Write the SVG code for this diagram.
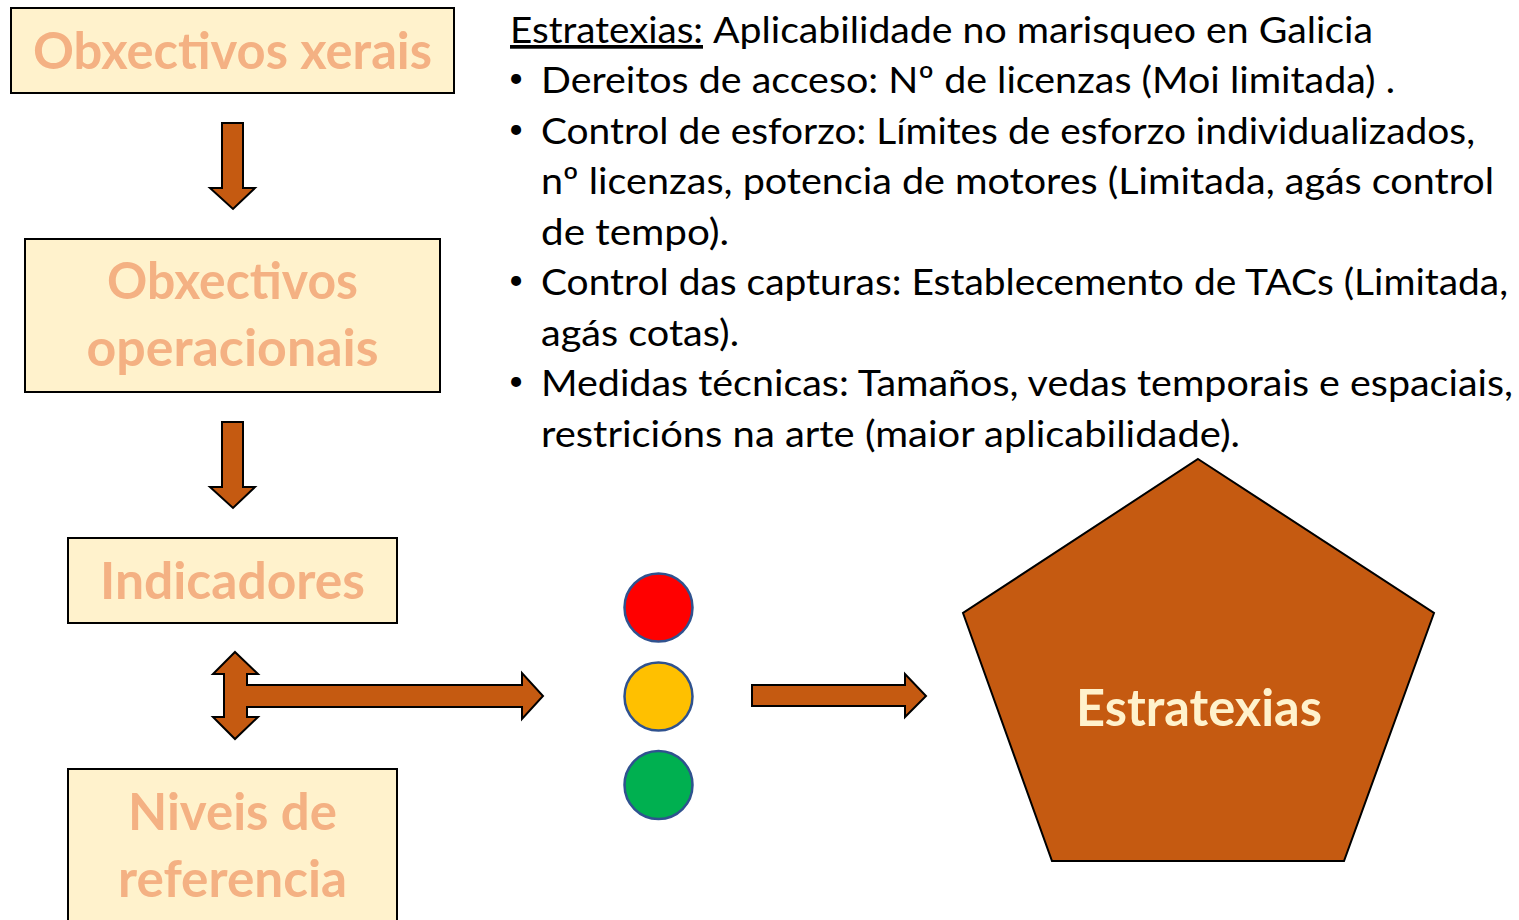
<svg xmlns="http://www.w3.org/2000/svg" width="1519" height="920" viewBox="0 0 1519 920">
<style>
.box{fill:#FFF2CC;stroke:#000;stroke-width:2}
.bt{font-family:Lato,"Open Sans","Liberation Sans",sans-serif;font-weight:bold;font-size:52px;fill:#F4B183;text-anchor:middle}
.arr{fill:#C55A11;stroke:#000;stroke-width:2;stroke-linejoin:miter}
.body{font-family:Lato,"Open Sans","Liberation Sans",sans-serif;font-size:37px;fill:#000}
.bul{font-family:Lato,"Open Sans","Liberation Sans",sans-serif;font-size:27px;fill:#000;text-anchor:middle}
.dot{stroke:#2F528F;stroke-width:2.5}
</style>
<rect width="1519" height="920" fill="#fff"/>
<g id="node-obxectivos-xerais">
<rect class="box" x="11" y="8" width="443" height="85"/>
<text class="bt" x="232.5" y="69" textLength="399" lengthAdjust="spacingAndGlyphs">Obxectivos xerais</text>
</g>
<g id="node-obxectivos-operacionais">
<rect class="box" x="25" y="239" width="415" height="153"/>
<text class="bt" x="232.5" y="299" textLength="251" lengthAdjust="spacingAndGlyphs">Obxectivos</text>
<text class="bt" x="232.5" y="366" textLength="292" lengthAdjust="spacingAndGlyphs">operacionais</text>
</g>
<g id="node-indicadores">
<rect class="box" x="68" y="538" width="329" height="85"/>
<text class="bt" x="232.5" y="599" textLength="265" lengthAdjust="spacingAndGlyphs">Indicadores</text>
</g>
<g id="node-niveis">
<rect class="box" x="68" y="769" width="329" height="160"/>
<text class="bt" x="232.5" y="830" textLength="209" lengthAdjust="spacingAndGlyphs">Niveis de</text>
<text class="bt" x="232.5" y="897" textLength="229" lengthAdjust="spacingAndGlyphs">referencia</text>
</g>
<g id="node-semaforo">
<circle class="dot" cx="658.5" cy="607.5" r="34" fill="#FF0000"/>
<circle class="dot" cx="658.5" cy="696.5" r="34" fill="#FFC000"/>
<circle class="dot" cx="658.5" cy="785" r="34" fill="#00B050"/>
</g>
<g id="node-estratexias">
<polygon points="1198,459 1434,613 1344,861 1052,861 963,613" fill="#C55A11" stroke="#000" stroke-width="2"/>
<text class="bt" x="1199" y="726" style="fill:#FFF2CC" textLength="246" lengthAdjust="spacingAndGlyphs">Estratexias</text>
</g>
<g id="connectors">
<polygon class="arr" points="222,123 243,123 243,188 255,188 233,209 210,188 222,188"/>
<polygon class="arr" points="222,422 243,422 243,487 255,487 233,508 210,487 222,487"/>
<polygon class="arr" points="235,652 258,674 247,674 247,685 522,685 522,673 543,696 522,719 522,707 247,707 247,717 258,717 235,739 213,717 224,717 224,674 213,674"/>
<polygon class="arr" points="752,685 905,685 905,674 926,696 905,717 905,706 752,706"/>
</g>
<g id="text-estratexias">
<text class="body" x="510" y="43" textLength="193" lengthAdjust="spacingAndGlyphs" text-decoration="underline">Estratexias:</text>
<text class="body" x="713" y="43" textLength="660" lengthAdjust="spacingAndGlyphs">Aplicabilidade no marisqueo en Galicia</text>
<text class="bul" x="516" y="87">•</text>
<text class="body" x="541" y="93" textLength="854" lengthAdjust="spacingAndGlyphs">Dereitos de acceso: Nº de licenzas (Moi limitada) .</text>
<text class="bul" x="516" y="138">•</text>
<text class="body" x="541" y="144" textLength="934" lengthAdjust="spacingAndGlyphs">Control de esforzo: Límites de esforzo individualizados,</text>
<text class="body" x="541" y="194" textLength="953" lengthAdjust="spacingAndGlyphs">nº licenzas, potencia de motores (Limitada, agás control</text>
<text class="body" x="541" y="245" textLength="188" lengthAdjust="spacingAndGlyphs">de tempo).</text>
<text class="bul" x="516" y="289">•</text>
<text class="body" x="541" y="295" textLength="967" lengthAdjust="spacingAndGlyphs">Control das capturas: Establecemento de TACs (Limitada,</text>
<text class="body" x="541" y="346" textLength="198" lengthAdjust="spacingAndGlyphs">agás cotas).</text>
<text class="bul" x="516" y="390">•</text>
<text class="body" x="541" y="396" textLength="972" lengthAdjust="spacingAndGlyphs">Medidas técnicas: Tamaños, vedas temporais e espaciais,</text>
<text class="body" x="541" y="447" textLength="699" lengthAdjust="spacingAndGlyphs">restricións na arte (maior aplicabilidade).</text>
</g>
</svg>
